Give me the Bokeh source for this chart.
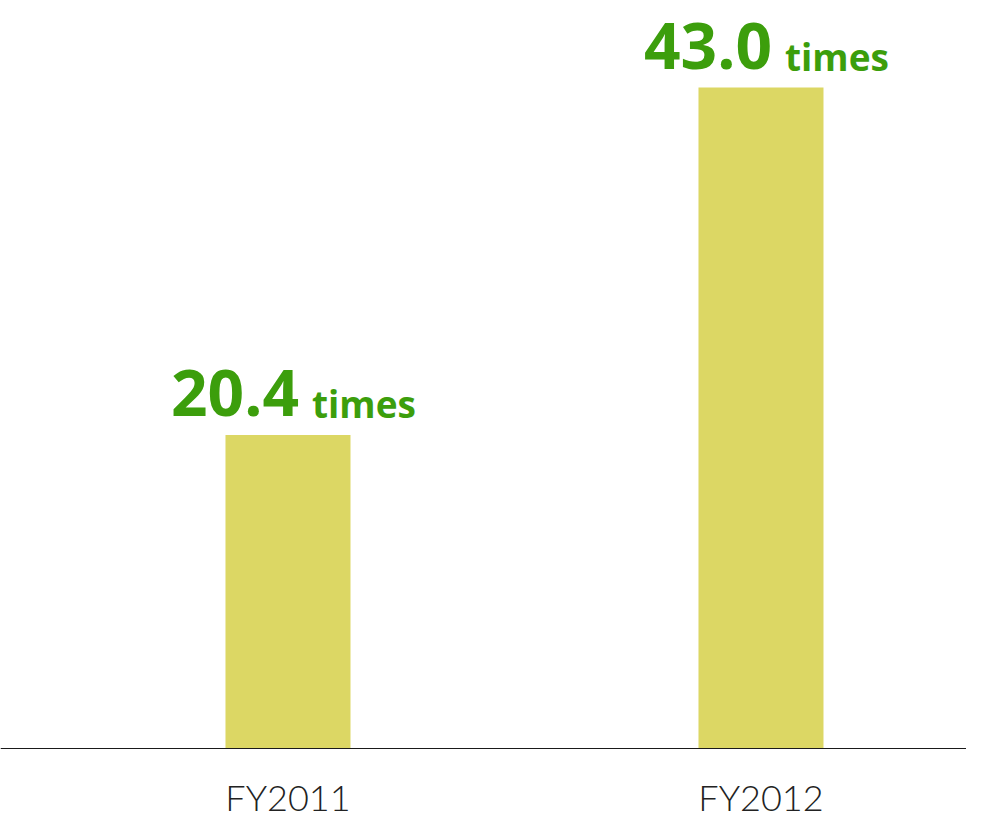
from bokeh.plotting import figure
from bokeh.models import Range1d, Span, ColumnDataSource
from bokeh.core.properties import value
from bokeh.embed import file_html
from bokeh.resources import INLINE

# data
categories = ["FY2011", "FY2012"]
values = [20.4, 43.0]
value_labels = ["20.4", "43.0"]
unit_label = "times"

idx = list(range(len(categories)))
src = ColumnDataSource(dict(x=idx, top=values, num=value_labels,
                            unit=[unit_label] * len(values),
                            cat=categories, zero=[0] * len(values)))

p = figure(width=966, height=822, output_backend="svg", toolbar_location=None,
           x_range=Range1d(-0.6078, 1.4345), y_range=Range1d(-4.815, 48.666),
           min_border=0, min_border_left=0, min_border_right=0,
           min_border_top=0, min_border_bottom=0)
p.axis.visible = False
p.grid.visible = False
p.outline_line_color = None
p.background_fill_color = "white"
p.border_fill_color = "white"

p.vbar(x="x", top="top", bottom=0, width=0.2643, source=src,
       fill_color="#dcd764", line_color=None)

p.add_layout(Span(location=0, dimension="width", line_color="#1a1a1a", line_width=1.2))

p.text(x="x", y="top", text="num", source=src, text_align="right",
       text_baseline="alphabetic", x_offset=11, y_offset=-42,
       text_font=value("Open Sans"), text_font_style="bold",
       text_font_size="64px", text_color="#3c9e0c")
p.text(x="x", y="top", text="unit", source=src, text_align="left",
       text_baseline="alphabetic", x_offset=24, y_offset=-31,
       text_font=value("Open Sans"), text_font_style="bold",
       text_font_size="37px", text_color="#3c9e0c")

p.text(x="x", y="zero", text="cat", source=src, text_align="center",
       text_baseline="alphabetic", y_offset=49,
       text_font=value("Lato Light, Open Sans"), text_font_size="36px",
       text_color="#222222")

open("out.html", "w").write(file_html(p, INLINE))
